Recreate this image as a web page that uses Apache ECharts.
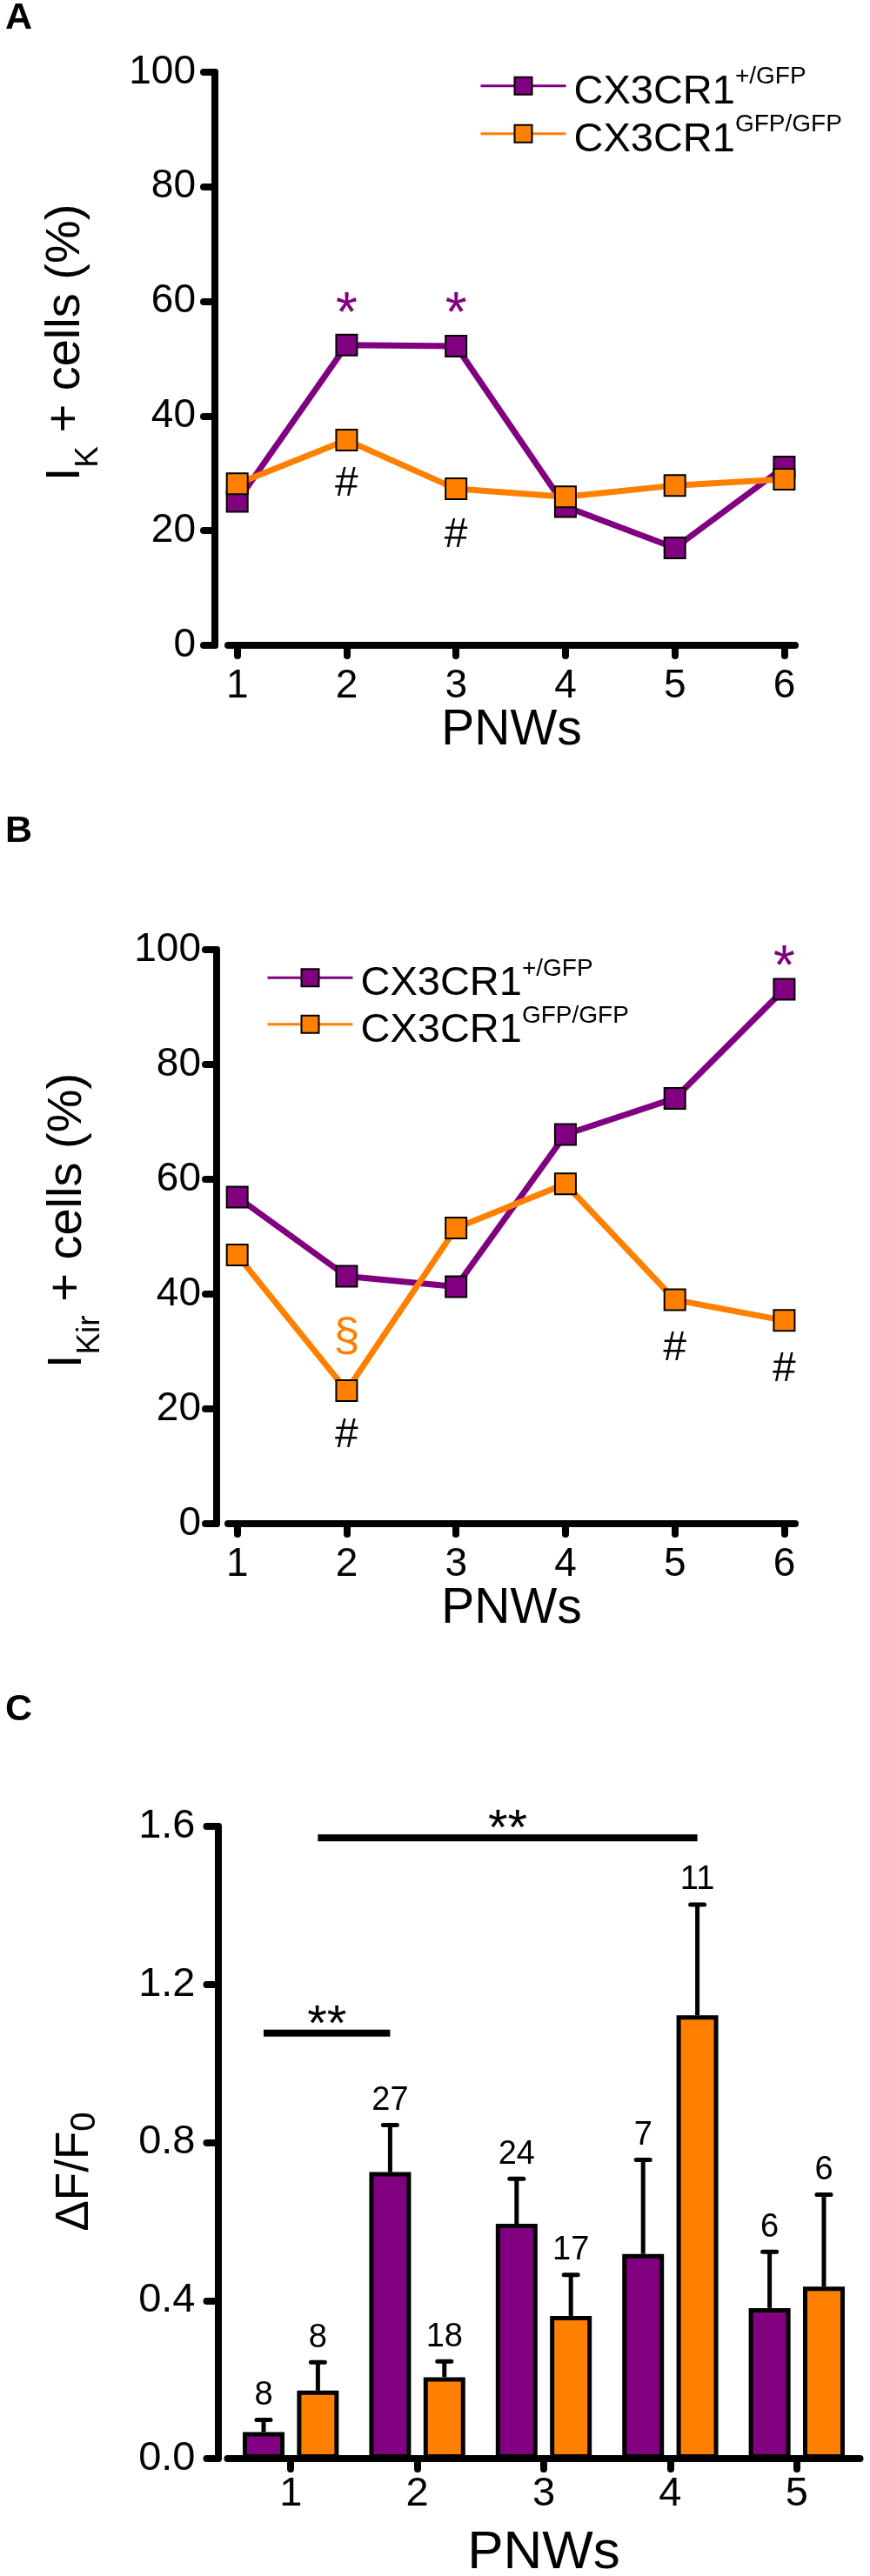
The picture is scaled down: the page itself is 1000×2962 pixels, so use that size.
<!DOCTYPE html>
<html>
<head>
<meta charset="utf-8">
<script src="https://cdn.jsdelivr.net/npm/echarts@6/dist/echarts.min.js"></script>
<style>
  html, body { margin: 0; padding: 0; background: #fff; }
  #chart { width: 1000px; height: 2962px; }
</style>
</head>
<body>
<div id="chart"></div>
<script>
// --- data ---
const weeks = [1, 2, 3, 4, 5, 6];

// A: I_K + cells (%)
const ikHet = [25.1, 52.4, 52.2, 24.2, 17.0, 31.1];
const ikKo  = [28.2, 35.8, 27.3, 25.9, 27.9, 29.0];

// B: I_Kir + cells (%)
const kirHet = [56.9, 43.1, 41.3, 67.8, 74.1, 93.1];
const kirKo  = [46.8, 23.2, 51.5, 59.2, 39.0, 35.4];

// C: dF/F0, mean + SEM, n
const caWeeks   = ['1', '2', '3', '4', '5'];
const caHetMean = [0.067, 0.725, 0.594, 0.518, 0.381];
const caHetErr  = [0.031, 0.119, 0.114, 0.238, 0.142];
const caHetN    = [8, 27, 24, 7, 6];
const caKoMean  = [0.172, 0.206, 0.361, 1.122, 0.435];
const caKoErr   = [0.072, 0.040, 0.104, 0.280, 0.233];
const caKoN     = [8, 18, 17, 11, 6];

// significance bars: [fromWeek, fromSlot, toWeek, toSlot, y, mark]
const sigLinks = [
  [0, 0, 1, 0, 1.077, '**'],
  [0, 1, 3, 1, 1.571, '**']
];

// marks on line panels: [week, y, text, colour key]
const marksA = [
  [2, 57.5, '*', 'het'], [3, 57.5, '*', 'het'],
  [2, 28.1, '#', 'k'],   [3, 19.1, '#', 'k']
];
const marksB = [
  [6, 96.6, '*', 'het'], [2, 32.4, '§', 'ko'],
  [2, 15.4, '#', 'k'],   [5, 30.5, '#', 'k'], [6, 26.9, '#', 'k']
];

const NAME_HET = 'CX3CR1+/GFP';
const NAME_KO  = 'CX3CR1GFP/GFP';

const PURPLE = '#800080';
const ORANGE = '#ff8000';
const FONT   = "'Liberation Sans', Arial, sans-serif";
const COLORS = { het: PURPLE, ko: ORANGE, k: '#000' };

const axisLineStyle = { color: '#000', width: 8, cap: 'round' };
// bar layout in C, as share of the category band
const BAR_W = 0.33;
const BAR_GAP = 0.30;

const chart = echarts.init(document.getElementById('chart'));

// ---------- axes ----------
function lineXAxis(gridIndex) {
  return {
    type: 'value', gridIndex, min: 0.915, max: 6.1,
    name: 'PNWs', nameLocation: 'middle', nameGap: 70, nameMoveOverlap: false,
    nameTextStyle: { fontFamily: FONT, fontSize: 57, color: '#000' },
    axisLine: { show: true, onZero: false, lineStyle: axisLineStyle },
    axisTick: { show: true, customValues: weeks, length: 12, lineStyle: axisLineStyle },
    axisLabel: { customValues: weeks, margin: 24, fontFamily: FONT, fontSize: 46, color: '#000' },
    splitLine: { show: false }
  };
}

function pctYAxis(gridIndex, offset, sub, labelMargin) {
  return {
    type: 'value', gridIndex, min: 0, max: 100, interval: 20, offset,
    name: '{m|I}{s|' + sub + '}{m| + cells (%)}',
    nameLocation: 'middle', nameGap: 143, nameMoveOverlap: false,
    nameTextStyle: {
      padding: [0, 0, 0, 37],
      rich: {
        m: { fontFamily: FONT, fontSize: 56, lineHeight: 56, color: '#000' },
        s: { fontFamily: FONT, fontSize: 37, lineHeight: 37, color: '#000', padding: [51, 0, 0, 0] }
      }
    },
    axisLine: { show: true, lineStyle: axisLineStyle },
    axisTick: { show: true, length: 13, lineStyle: axisLineStyle },
    axisLabel: { margin: labelMargin, fontFamily: FONT, fontSize: 46, color: '#000' },
    splitLine: { show: false }
  };
}

// ---------- line panels ----------
function lineSeries(name, values, color, idx, z) {
  return {
    name, type: 'line', xAxisIndex: idx, yAxisIndex: idx, z,
    data: weeks.map((w, i) => [w, values[i]]),
    symbol: 'rect', symbolSize: 24, showSymbol: true,
    lineStyle: { color, width: 7 },
    itemStyle: { color, borderColor: '#000', borderWidth: 2 },
    emphasis: { disabled: true }
  };
}

function markSeries(marks, idx) {
  return {
    type: 'scatter', xAxisIndex: idx, yAxisIndex: idx, z: 10,
    symbolSize: 1, itemStyle: { color: 'rgba(0,0,0,0)', opacity: 1 }, silent: true,
    data: marks.map(m => ({
      value: [m[0], m[1]],
      label: {
        show: true, position: 'inside', formatter: m[2], opacity: 1,
        color: COLORS[m[3]], fontFamily: FONT,
        fontSize: m[2] === '#' ? 48 : (m[2] === '§' ? 54 : 64)
      }
    }))
  };
}

const legendRich = {
  m: { fontFamily: FONT, fontSize: 47, lineHeight: 47, color: '#000', padding: [14, 0, 0, 4] },
  s: { fontFamily: FONT, fontSize: 28, lineHeight: 28, color: '#000', padding: [0, 0, 20, 0] }
};
const legendText = {};
legendText[NAME_HET] = '{m|CX3CR1}{s|+/GFP}';
legendText[NAME_KO]  = '{m|CX3CR1}{s|GFP/GFP}';

function legendItem(name, left, lineY) {
  return {
    data: [name], left, top: lineY - 34.5, padding: 0,
    orient: 'vertical', selectedMode: false,
    itemWidth: 98, itemHeight: 25,
    lineStyle: { width: 3 },
    formatter: n => legendText[n],
    textStyle: { rich: legendRich }
  };
}

// ---------- bar panel ----------
// x centre of a bar slot (0 = purple, 1 = orange) inside a category band
function slotX(api, cat, y, slot) {
  const band = api.size([1, 0])[0];
  const step = band * BAR_W * (1 + BAR_GAP);
  const p = api.coord([cat, y]);
  return [p[0] + (slot === 0 ? -step / 2 : step / 2), p[1]];
}

function errorSeries(means, errs, counts, slot) {
  return {
    type: 'custom', xAxisIndex: 2, yAxisIndex: 2, z: 2, silent: true,
    data: means.map((m, i) => [i, m, m + errs[i], counts[i]]),
    renderItem: (params, api) => {
      const base = slotX(api, api.value(0), api.value(1), slot);
      const top = slotX(api, api.value(0), api.value(2), slot);
      const x = base[0];
      return {
        type: 'group',
        children: [
          { type: 'line', shape: { x1: x, y1: base[1], x2: x, y2: top[1] },
            style: { stroke: '#000', lineWidth: 5 } },
          { type: 'line', shape: { x1: x - 8, y1: top[1], x2: x + 8, y2: top[1] },
            style: { stroke: '#000', lineWidth: 5, lineCap: 'round' } },
          { type: 'text', x: x, y: top[1] - 28,
            style: { text: String(api.value(3)), fontFamily: FONT, fontSize: 38,
                     fill: '#000', align: 'center', verticalAlign: 'middle' } }
        ]
      };
    }
  };
}

function barSeries(name, means, color) {
  return {
    name, type: 'bar', xAxisIndex: 2, yAxisIndex: 2, z: 3,
    data: means, barWidth: (BAR_W * 100) + '%', barGap: (BAR_GAP * 100) + '%',
    itemStyle: { color, borderColor: '#000', borderWidth: 5 },
    emphasis: { disabled: true }
  };
}

const sigSeries = {
  type: 'custom', xAxisIndex: 2, yAxisIndex: 2, z: 5, silent: true,
  data: sigLinks.map(s => [s[0], s[4], s[2]]),
  renderItem: (params, api) => {
    const s = sigLinks[params.dataIndex];
    const p1 = slotX(api, s[0], s[4], s[1]);
    const p2 = slotX(api, s[2], s[4], s[3]);
    return {
      type: 'group',
      children: [
        { type: 'line', shape: { x1: p1[0], y1: p1[1], x2: p2[0], y2: p1[1] },
          style: { stroke: '#000', lineWidth: 8 } },
        { type: 'text', x: (p1[0] + p2[0]) / 2, y: p1[1] - 8,
          style: { text: s[5], fontFamily: FONT, fontSize: 58, fill: '#000',
                   align: 'center', verticalAlign: 'middle' } }
      ]
    };
  }
};

const panelLabel = (text, top) => ({
  text, left: 6, top, padding: 0,
  textStyle: { fontFamily: FONT, fontSize: 43, fontWeight: 'bold', color: '#000' }
});

const option = {
  animation: false,
  backgroundColor: '#fff',
  title: [panelLabel('A', 0), panelLabel('B', 935), panelLabel('C', 1945)],
  legend: [
    legendItem(NAME_HET, 551, 102.7),
    legendItem(NAME_KO, 551, 157.7),
    legendItem(NAME_HET, 306, 1128.3),
    legendItem(NAME_KO, 306, 1181.8)
  ],
  grid: [
    { left: 262, width: 652, top: 83, height: 659, outerBoundsMode: 'none' },
    { left: 262, width: 652, top: 1092, height: 660, outerBoundsMode: 'none' },
    { left: 261.5, width: 727, top: 2100, height: 727, outerBoundsMode: 'none' }
  ],
  xAxis: [
    lineXAxis(0),
    lineXAxis(1),
    {
      type: 'category', gridIndex: 2, data: caWeeks, boundaryGap: true,
      name: 'PNWs', nameLocation: 'middle', nameGap: 78, nameMoveOverlap: false,
      nameTextStyle: { fontFamily: FONT, fontSize: 62, color: '#000' },
      axisLine: { show: true, lineStyle: axisLineStyle },
      axisTick: { show: true, alignWithLabel: true, length: 12, lineStyle: axisLineStyle },
      axisLabel: { margin: 18, fontFamily: FONT, fontSize: 47, color: '#000' },
      splitLine: { show: false }
    }
  ],
  yAxis: [
    pctYAxis(0, 15, 'K', 22),
    pctYAxis(1, 13, 'Kir', 18),
    {
      type: 'value', gridIndex: 2, min: 0, max: 1.6, interval: 0.4, offset: 11,
      name: '{m|ΔF/F}{s|0}', nameLocation: 'middle', nameGap: 138, nameMoveOverlap: false,
      nameTextStyle: {
        padding: [0, 67, 0, 0],
        rich: {
          m: { fontFamily: FONT, fontSize: 53, lineHeight: 53, color: '#000' },
          s: { fontFamily: FONT, fontSize: 40, lineHeight: 40, color: '#000', padding: [23, 0, 0, 0] }
        }
      },
      axisLine: { show: true, lineStyle: axisLineStyle },
      axisTick: { show: true, length: 13, lineStyle: axisLineStyle },
      axisLabel: { margin: 26, fontFamily: FONT, fontSize: 47, color: '#000',
                   formatter: v => v.toFixed(1) },
      splitLine: { show: false }
    }
  ],
  series: [
    lineSeries(NAME_HET, ikHet, PURPLE, 0, 2),
    lineSeries(NAME_KO, ikKo, ORANGE, 0, 3),
    markSeries(marksA, 0),
    lineSeries(NAME_HET, kirHet, PURPLE, 1, 2),
    lineSeries(NAME_KO, kirKo, ORANGE, 1, 3),
    markSeries(marksB, 1),
    errorSeries(caHetMean, caHetErr, caHetN, 0),
    errorSeries(caKoMean, caKoErr, caKoN, 1),
    barSeries('C het', caHetMean, PURPLE),
    barSeries('C ko', caKoMean, ORANGE),
    sigSeries
  ]
};

chart.setOption(option);
</script>
</body>
</html>
